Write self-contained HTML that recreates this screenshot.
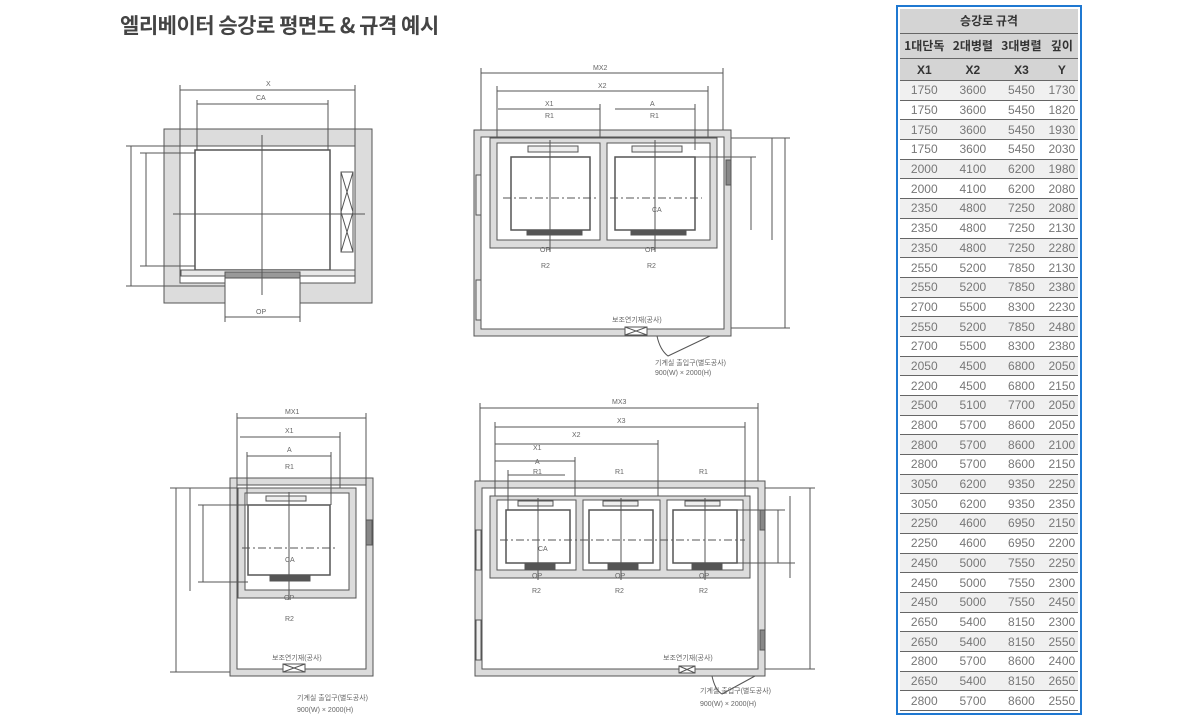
<!DOCTYPE html>
<html><head><meta charset="utf-8"><style>
body{margin:0;width:1200px;height:718px;background:#fff;position:relative;overflow:hidden;font-family:"Liberation Sans","Noto Sans CJK KR",sans-serif}
.title{position:absolute;left:120px;top:10px;font-size:21px;font-weight:bold;color:#444;font-family:"Noto Sans CJK KR","Liberation Sans",sans-serif;letter-spacing:-0.5px}
.tb{position:absolute;left:896px;top:5px;width:178px;height:702px;border:2px solid #1f78d1;padding:2px;background:#fff}
table{border-collapse:collapse;width:178px;font-size:12px;color:#777;text-align:center;font-family:"Liberation Sans","Noto Sans CJK KR",sans-serif}
td{border-bottom:1px solid #666;padding:0;height:18.7px;line-height:18px}
tr.h td{background:#d4d4d4;color:#333;font-weight:bold;font-family:"Noto Sans CJK KR",sans-serif;font-size:12px}
tr:nth-child(even):not(.h) td{background:#f0f0f0}
svg{position:absolute;left:0;top:0}
svg text{font-family:"Liberation Sans",sans-serif;font-size:7px;fill:#666}
</style></head><body>
<div class="title">엘리베이터 승강로 평면도 &amp; 규격 예시</div>
<svg width="890" height="718" viewBox="0 0 890 718" stroke="#555" stroke-width="1" fill="none">
<path d="M164 129H372V303H300V283H355V146H180V283H225V303H164Z" fill="#dcdcdc"/>
<rect x="195" y="150" width="135" height="120" stroke-width="1.5"/>
<rect x="181" y="270" width="174" height="6" fill="#e8e8e8"/>
<rect x="225" y="272" width="75" height="6" fill="#999"/>
<line x1="262" y1="135" x2="262" y2="295"/><line x1="173" y1="214" x2="365" y2="214"/>
<rect x="341" y="172" width="12" height="80"/><path d="M341 172L353 212L341 252M353 172L341 212L353 252"/>
<line x1="180" y1="85" x2="180" y2="146"/><line x1="355" y1="85" x2="355" y2="146"/><line x1="180" y1="90" x2="355" y2="90"/>
<line x1="197" y1="100" x2="197" y2="150"/><line x1="328" y1="100" x2="328" y2="150"/><line x1="197" y1="104" x2="328" y2="104"/>
<line x1="131" y1="146" x2="131" y2="286"/><line x1="126" y1="146" x2="180" y2="146"/><line x1="126" y1="286" x2="225" y2="286"/>
<line x1="146" y1="153" x2="146" y2="266"/><line x1="140" y1="153" x2="195" y2="153"/><line x1="140" y1="266" x2="195" y2="266"/>
<line x1="225" y1="278" x2="225" y2="322"/><line x1="300" y1="278" x2="300" y2="322"/><line x1="225" y1="317" x2="300" y2="317"/>
<text x="266" y="86" stroke="none">X</text><text x="256" y="100" stroke="none">CA</text><text x="256" y="314" stroke="none">OP</text>
<path d="M474 130H731V336H474Z M481 137V329H724V137Z" fill="#dcdcdc" fill-rule="evenodd"/>
<path d="M490 138H717V248H490Z M497 143V240H600V143Z M607 143V240H710V143Z" fill="#dcdcdc" fill-rule="evenodd"/>
<rect x="511" y="157" width="79" height="73" stroke-width="1.5" fill="#fff"/><rect x="615" y="157" width="80" height="73" stroke-width="1.5" fill="#fff"/>
<rect x="527" y="230" width="55" height="5" fill="#555"/><rect x="631" y="230" width="55" height="5" fill="#555"/>
<rect x="528" y="146" width="50" height="6" fill="#eee"/><rect x="632" y="146" width="50" height="6" fill="#eee"/>
<line x1="550" y1="140" x2="550" y2="252"/><line x1="655" y1="140" x2="655" y2="252"/>
<line x1="503" y1="198" x2="598" y2="198" stroke-dasharray="8 3 2 3"/><line x1="610" y1="198" x2="702" y2="198" stroke-dasharray="8 3 2 3"/>
<line x1="481" y1="73" x2="723" y2="73"/><line x1="481" y1="68" x2="481" y2="130"/><line x1="723" y1="68" x2="723" y2="130"/>
<line x1="497" y1="91" x2="708" y2="91"/><line x1="497" y1="86" x2="497" y2="138"/><line x1="708" y1="86" x2="708" y2="138"/>
<line x1="498" y1="109" x2="600" y2="109"/><line x1="615" y1="109" x2="695" y2="109"/><line x1="600" y1="104" x2="600" y2="138"/><line x1="695" y1="104" x2="695" y2="150"/>
<line x1="772" y1="138" x2="772" y2="240"/><line x1="785" y1="138" x2="785" y2="328"/><line x1="751" y1="157" x2="751" y2="230"/>
<line x1="731" y1="138" x2="790" y2="138"/><line x1="731" y1="328" x2="790" y2="328"/><line x1="695" y1="157" x2="756" y2="157"/>
<rect x="726" y="160" width="5" height="25" fill="#888"/><rect x="476" y="175" width="5" height="40" fill="#eee"/><rect x="476" y="280" width="5" height="40" fill="#eee"/>
<rect x="625" y="327" width="22" height="8" fill="#fff"/><path d="M625 327L647 335M647 327L625 335"/>
<path d="M657 336Q660 350 668 356L710 336"/>
<text x="593" y="70" stroke="none">MX2</text><text x="598" y="88" stroke="none">X2</text><text x="545" y="106" stroke="none">X1</text><text x="650" y="106" stroke="none">A</text>
<text x="545" y="118" stroke="none">R1</text><text x="650" y="118" stroke="none">R1</text><text x="540" y="252" stroke="none">OP</text><text x="645" y="252" stroke="none">OP</text>
<text x="541" y="268" stroke="none">R2</text><text x="647" y="268" stroke="none">R2</text><text x="652" y="212" stroke="none">CA</text>
<text x="612" y="322" stroke="none">보조연기재(공사)</text><text x="655" y="365" stroke="none">기계실 출입구(별도공사)</text><text x="655" y="375" stroke="none">900(W) × 2000(H)</text>
<path d="M230 478H373V676H230Z M237 485V669H366V485Z" fill="#dcdcdc" fill-rule="evenodd"/>
<path d="M238 488H356V598H238Z M245 493V590H349V493Z" fill="#dcdcdc" fill-rule="evenodd"/>
<rect x="248" y="505" width="82" height="70" stroke-width="1.5" fill="#fff"/><rect x="270" y="575" width="40" height="6" fill="#555"/>
<rect x="266" y="496" width="40" height="5" fill="#eee"/>
<line x1="289" y1="492" x2="289" y2="600"/><line x1="242" y1="548" x2="336" y2="548" stroke-dasharray="8 3 2 3"/>
<line x1="237" y1="418" x2="366" y2="418"/><line x1="237" y1="413" x2="237" y2="485"/><line x1="366" y1="413" x2="366" y2="485"/>
<line x1="240" y1="437" x2="340" y2="437"/><line x1="340" y1="432" x2="340" y2="488"/>
<line x1="247" y1="456" x2="331" y2="456"/><line x1="247" y1="452" x2="247" y2="505"/><line x1="331" y1="452" x2="331" y2="505"/>
<line x1="176" y1="488" x2="176" y2="672"/><line x1="170" y1="488" x2="237" y2="488"/><line x1="170" y1="672" x2="230" y2="672"/>
<line x1="190" y1="488" x2="190" y2="591"/><line x1="203" y1="505" x2="203" y2="582"/><line x1="198" y1="505" x2="248" y2="505"/><line x1="198" y1="582" x2="248" y2="582"/>
<rect x="366" y="520" width="6" height="25" fill="#888"/>
<rect x="283" y="664" width="22" height="8" fill="#fff"/><path d="M283 664L305 672M305 664L283 672"/>
<text x="285" y="414" stroke="none">MX1</text><text x="285" y="433" stroke="none">X1</text><text x="287" y="452" stroke="none">A</text><text x="285" y="469" stroke="none">R1</text>
<text x="284" y="600" stroke="none">OP</text><text x="285" y="621" stroke="none">R2</text><text x="285" y="562" stroke="none">CA</text>
<text x="272" y="660" stroke="none">보조연기재(공사)</text><text x="297" y="700" stroke="none">기계실 출입구(별도공사)</text><text x="297" y="712" stroke="none">900(W) × 2000(H)</text>
<path d="M475 481H765V676H475Z M482 488V669H758V488Z" fill="#dcdcdc" fill-rule="evenodd"/>
<path d="M490 496H750V578H490Z M497 500V570H576V500Z M583 500V570H660V500Z M667 500V570H743V500Z" fill="#dcdcdc" fill-rule="evenodd"/>
<rect x="506" y="510" width="64" height="53" stroke-width="1.5" fill="#fff"/><rect x="589" y="510" width="64" height="53" stroke-width="1.5" fill="#fff"/><rect x="673" y="510" width="64" height="53" stroke-width="1.5" fill="#fff"/>
<rect x="525" y="563" width="30" height="6" fill="#555"/><rect x="608" y="563" width="30" height="6" fill="#555"/><rect x="692" y="563" width="30" height="6" fill="#555"/>
<rect x="518" y="501" width="35" height="5" fill="#eee"/><rect x="603" y="501" width="35" height="5" fill="#eee"/><rect x="685" y="501" width="35" height="5" fill="#eee"/>
<line x1="538" y1="498" x2="538" y2="580"/><line x1="621" y1="498" x2="621" y2="580"/><line x1="705" y1="498" x2="705" y2="580"/>
<line x1="500" y1="540" x2="745" y2="540" stroke-dasharray="8 3 2 3"/>
<line x1="480" y1="408" x2="758" y2="408"/><line x1="480" y1="403" x2="480" y2="481"/><line x1="758" y1="403" x2="758" y2="481"/>
<line x1="495" y1="427" x2="745" y2="427"/><line x1="495" y1="422" x2="495" y2="496"/><line x1="745" y1="422" x2="745" y2="496"/>
<line x1="495" y1="444" x2="658" y2="444"/><line x1="658" y1="440" x2="658" y2="496"/>
<line x1="495" y1="461" x2="575" y2="461"/><line x1="575" y1="457" x2="575" y2="496"/>
<line x1="508" y1="475" x2="565" y2="475"/><line x1="508" y1="470" x2="508" y2="510"/>
<line x1="810" y1="488" x2="810" y2="669"/><line x1="790" y1="496" x2="790" y2="578"/><line x1="778" y1="510" x2="778" y2="563"/>
<line x1="765" y1="488" x2="815" y2="488"/><line x1="765" y1="669" x2="815" y2="669"/><line x1="737" y1="510" x2="785" y2="510"/><line x1="737" y1="563" x2="795" y2="563"/>
<rect x="760" y="510" width="5" height="20" fill="#888"/><rect x="760" y="630" width="5" height="20" fill="#888"/>
<rect x="476" y="530" width="5" height="40" fill="#eee"/><rect x="476" y="620" width="5" height="40" fill="#eee"/>
<rect x="679" y="666" width="16" height="7" fill="#fff"/><path d="M679 666L695 673M695 666L679 673"/><path d="M712 676Q715 690 722 694L755 676"/>
<text x="612" y="404" stroke="none">MX3</text><text x="617" y="423" stroke="none">X3</text><text x="572" y="437" stroke="none">X2</text><text x="533" y="450" stroke="none">X1</text><text x="535" y="464" stroke="none">A</text>
<text x="533" y="474" stroke="none">R1</text><text x="615" y="474" stroke="none">R1</text><text x="699" y="474" stroke="none">R1</text>
<text x="532" y="578" stroke="none">OP</text><text x="615" y="578" stroke="none">OP</text><text x="699" y="578" stroke="none">OP</text>
<text x="532" y="593" stroke="none">R2</text><text x="615" y="593" stroke="none">R2</text><text x="699" y="593" stroke="none">R2</text><text x="538" y="551" stroke="none">CA</text>
<text x="663" y="660" stroke="none">보조연기재(공사)</text><text x="700" y="693" stroke="none">기계실 출입구(별도공사)</text><text x="700" y="706" stroke="none">900(W) × 2000(H)</text>
</svg>
<div class="tb"><table>
<tr class="h"><td colspan="4" style="height:24px">승강로 규격</td></tr>
<tr class="h"><td style="height:24px">1대단독</td><td>2대병렬</td><td>3대병렬</td><td>깊이</td></tr>
<tr class="h"><td style="height:21px;font-family:'Liberation Sans',sans-serif">X1</td><td style="font-family:'Liberation Sans',sans-serif">X2</td><td style="font-family:'Liberation Sans',sans-serif">X3</td><td style="font-family:'Liberation Sans',sans-serif">Y</td></tr>
<tr><td>1750</td><td>3600</td><td>5450</td><td>1730</td></tr>
<tr><td>1750</td><td>3600</td><td>5450</td><td>1820</td></tr>
<tr><td>1750</td><td>3600</td><td>5450</td><td>1930</td></tr>
<tr><td>1750</td><td>3600</td><td>5450</td><td>2030</td></tr>
<tr><td>2000</td><td>4100</td><td>6200</td><td>1980</td></tr>
<tr><td>2000</td><td>4100</td><td>6200</td><td>2080</td></tr>
<tr><td>2350</td><td>4800</td><td>7250</td><td>2080</td></tr>
<tr><td>2350</td><td>4800</td><td>7250</td><td>2130</td></tr>
<tr><td>2350</td><td>4800</td><td>7250</td><td>2280</td></tr>
<tr><td>2550</td><td>5200</td><td>7850</td><td>2130</td></tr>
<tr><td>2550</td><td>5200</td><td>7850</td><td>2380</td></tr>
<tr><td>2700</td><td>5500</td><td>8300</td><td>2230</td></tr>
<tr><td>2550</td><td>5200</td><td>7850</td><td>2480</td></tr>
<tr><td>2700</td><td>5500</td><td>8300</td><td>2380</td></tr>
<tr><td>2050</td><td>4500</td><td>6800</td><td>2050</td></tr>
<tr><td>2200</td><td>4500</td><td>6800</td><td>2150</td></tr>
<tr><td>2500</td><td>5100</td><td>7700</td><td>2050</td></tr>
<tr><td>2800</td><td>5700</td><td>8600</td><td>2050</td></tr>
<tr><td>2800</td><td>5700</td><td>8600</td><td>2100</td></tr>
<tr><td>2800</td><td>5700</td><td>8600</td><td>2150</td></tr>
<tr><td>3050</td><td>6200</td><td>9350</td><td>2250</td></tr>
<tr><td>3050</td><td>6200</td><td>9350</td><td>2350</td></tr>
<tr><td>2250</td><td>4600</td><td>6950</td><td>2150</td></tr>
<tr><td>2250</td><td>4600</td><td>6950</td><td>2200</td></tr>
<tr><td>2450</td><td>5000</td><td>7550</td><td>2250</td></tr>
<tr><td>2450</td><td>5000</td><td>7550</td><td>2300</td></tr>
<tr><td>2450</td><td>5000</td><td>7550</td><td>2450</td></tr>
<tr><td>2650</td><td>5400</td><td>8150</td><td>2300</td></tr>
<tr><td>2650</td><td>5400</td><td>8150</td><td>2550</td></tr>
<tr><td>2800</td><td>5700</td><td>8600</td><td>2400</td></tr>
<tr><td>2650</td><td>5400</td><td>8150</td><td>2650</td></tr>
<tr><td>2800</td><td>5700</td><td>8600</td><td>2550</td></tr>
</table></div>
</body></html>
